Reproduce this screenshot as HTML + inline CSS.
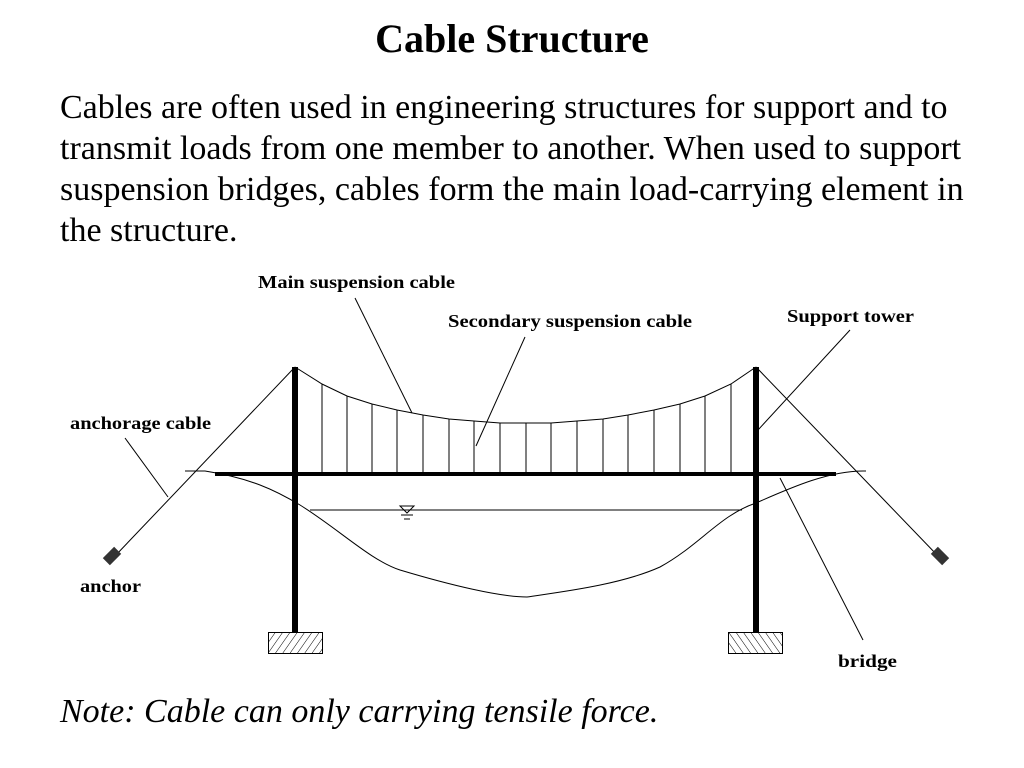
<!DOCTYPE html>
<html><head><style>
body{margin:0;width:1024px;height:768px;background:#fff;overflow:hidden;font-family:"Liberation Serif",serif;position:relative}
.t{position:absolute;left:0;width:1024px;text-align:center;top:15px;font-size:40px;font-weight:bold}
.p{position:absolute;left:60px;top:87px;width:960px;font-size:34px;line-height:41px;white-space:nowrap}
.n{position:absolute;left:60px;top:693px;font-size:34px;font-style:italic}
svg{position:absolute;left:0;top:0}
</style></head><body>
<div class="t">Cable Structure</div>
<div class="p">Cables are often used in engineering structures for support and to<br>transmit loads from one member to another. When used to support<br>suspension bridges, cables form the main load-carrying element in<br>the structure.</div>
<svg width="1024" height="768" font-family="Liberation Serif, serif" font-weight="bold" font-size="18">
<defs><pattern id="h" width="6" height="6" patternUnits="userSpaceOnUse" patternTransform="rotate(35)"><line x1="0" y1="0" x2="0" y2="6" stroke="#000" stroke-width="1"/></pattern>
<pattern id="h2" width="6" height="6" patternUnits="userSpaceOnUse" patternTransform="rotate(-35)"><line x1="0" y1="0" x2="0" y2="6" stroke="#000" stroke-width="1"/></pattern></defs>
<g stroke="#000" fill="none" stroke-width="1">
<polyline points="295,367 322,384 347,396 372,404 397,410 423,415 449,419 474,421 500,423 526,423 551,423 577,421 603,419 628,415 654,410 680,404 705,396 731,384 756,367"/>
<g>
<line x1="322" y1="384" x2="322" y2="474"/><line x1="347" y1="396" x2="347" y2="474"/><line x1="372" y1="404" x2="372" y2="474"/><line x1="397" y1="410" x2="397" y2="474"/><line x1="423" y1="415" x2="423" y2="474"/><line x1="449" y1="419" x2="449" y2="474"/><line x1="474" y1="421" x2="474" y2="474"/><line x1="500" y1="423" x2="500" y2="474"/><line x1="526" y1="423" x2="526" y2="474"/><line x1="551" y1="423" x2="551" y2="474"/><line x1="577" y1="421" x2="577" y2="474"/><line x1="603" y1="419" x2="603" y2="474"/><line x1="628" y1="415" x2="628" y2="474"/><line x1="654" y1="410" x2="654" y2="474"/><line x1="680" y1="404" x2="680" y2="474"/><line x1="705" y1="396" x2="705" y2="474"/><line x1="731" y1="384" x2="731" y2="474"/>
</g>
<line x1="295" y1="367" x2="115" y2="556"/>
<line x1="756" y1="367" x2="938" y2="556"/>
<path d="M185,471 L205,471 C250,478 275,490 300,505 C340,530 370,560 400,570 C450,585 500,597 527,597 C560,592 620,585 660,567 C700,545 720,515 756,503 C790,488 830,470 866,471"/>
<line x1="310" y1="510" x2="742" y2="510"/>
<path d="M400,506 L414,506 L407,513 Z"/>
<line x1="401" y1="515" x2="413" y2="515"/><line x1="404" y1="519" x2="410" y2="519"/>
<line x1="355" y1="298" x2="412" y2="413"/>
<line x1="525" y1="337" x2="476" y2="446"/>
<line x1="850" y1="330" x2="758" y2="430"/>
<line x1="125" y1="438" x2="168" y2="497"/>
<line x1="863" y1="640" x2="780" y2="478"/>
</g>
<rect x="215" y="472" width="621" height="4" fill="#000"/>
<rect x="292" y="367" width="6" height="265" fill="#000"/>
<rect x="753" y="367" width="6" height="265" fill="#000"/>
<rect x="268.5" y="632.5" width="54" height="21" fill="url(#h)" stroke="#000"/>
<rect x="728.5" y="632.5" width="54" height="21" fill="url(#h2)" stroke="#000"/>
<rect x="104" y="551" width="16" height="10" fill="#333" transform="rotate(-45 112 556)"/>
<rect x="932" y="551" width="16" height="10" fill="#333" transform="rotate(45 940 556)"/>
<text x="258" y="288" textLength="197" lengthAdjust="spacingAndGlyphs">Main suspension cable</text>
<text x="448" y="327" textLength="244" lengthAdjust="spacingAndGlyphs">Secondary suspension cable</text>
<text x="787" y="322" textLength="127" lengthAdjust="spacingAndGlyphs">Support tower</text>
<text x="70" y="429" textLength="141" lengthAdjust="spacingAndGlyphs">anchorage cable</text>
<text x="80" y="592" textLength="61" lengthAdjust="spacingAndGlyphs">anchor</text>
<text x="838" y="667" textLength="59" lengthAdjust="spacingAndGlyphs">bridge</text>
</svg>
<div class="n">Note: Cable can only carrying tensile force.</div>
</body></html>
